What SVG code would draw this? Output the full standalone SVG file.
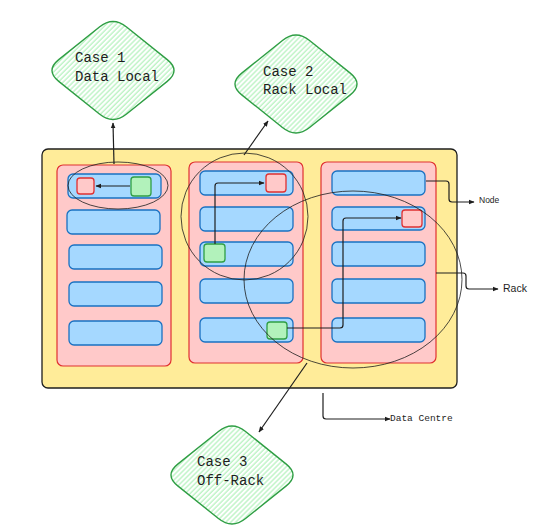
<svg xmlns="http://www.w3.org/2000/svg" width="560" height="530" viewBox="0 0 560 530">
<style>
.dc{fill:#ffec99;stroke:#1e1e1e;stroke-width:1.3}
.rack{fill:#ffc9c9;stroke:#e03131;stroke-width:1.2}
.srv{fill:#a5d8ff;stroke:#1971c2;stroke-width:1.3}
.grn{fill:#b2f2bb;stroke:#2f9e44;stroke-width:1.3}
.red{fill:#ffc9c9;stroke:#e03131;stroke-width:1.3}
.ell{fill:none;stroke:#1e1e1e;stroke-width:1;stroke-opacity:0.8}
.con{fill:none;stroke:#1e1e1e;stroke-width:1.2}
.dia{fill:url(#hatch);stroke:#2f9e44;stroke-width:1.4}
.case{font-family:"Liberation Mono","DejaVu Sans Mono",monospace;font-size:14px;fill:#1e1e1e}
.lbl{font-family:"Liberation Sans","DejaVu Sans",sans-serif;fill:#1e1e1e}
</style>
<defs>
<pattern id="hatch" patternUnits="userSpaceOnUse" width="3.5" height="3.5" patternTransform="rotate(45)">
<rect width="3.5" height="3.5" fill="#ffffff"/>
<line x1="1" y1="0" x2="1" y2="3.5" stroke="#b2f2bb" stroke-width="1.2"/>
</pattern>
<path id="diamond" d="M 13.56,-43.52 L 54.24,-10.88 Q 67.8,0 54.24,10.88 L 13.56,43.52 Q 0,54.4 -13.56,43.52 L -54.24,10.88 Q -67.8,0 -54.24,-10.88 L -13.56,-43.52 Q 0,-54.4 13.56,-43.52 Z"/>
<marker id="ah" viewBox="0 0 10 10" refX="9" refY="5" markerWidth="6" markerHeight="6" orient="auto" markerUnits="userSpaceOnUse">
<path d="M0,1 L10,5 L0,9 Z" fill="#1e1e1e"/>
</marker>
</defs>

<g id="data-centre"><rect class="dc" x="42" y="149" width="415" height="239" rx="6"/></g>

<g id="rack-1"><rect class="rack" x="57" y="165" width="114" height="201" rx="6"/></g>
<g id="rack-2"><rect class="rack" x="189" y="162" width="114" height="201" rx="6"/></g>
<g id="rack-3"><rect class="rack" x="321" y="162" width="115" height="201" rx="6"/></g>

<g id="r1-node-1"><rect class="srv" x="68" y="174" width="93" height="24" rx="5"/></g>
<g id="r1-node-2"><rect class="srv" x="67" y="210" width="93" height="24" rx="5"/></g>
<g id="r1-node-3"><rect class="srv" x="69" y="245" width="93" height="24" rx="5"/></g>
<g id="r1-node-4"><rect class="srv" x="69" y="282" width="93" height="24" rx="5"/></g>
<g id="r1-node-5"><rect class="srv" x="69" y="321" width="93" height="24" rx="5"/></g>

<g id="r2-node-1"><rect class="srv" x="200" y="171" width="93" height="24" rx="5"/></g>
<g id="r2-node-2"><rect class="srv" x="200" y="207" width="93" height="24" rx="5"/></g>
<g id="r2-node-3"><rect class="srv" x="200" y="242" width="93" height="24" rx="5"/></g>
<g id="r2-node-4"><rect class="srv" x="200" y="279" width="93" height="24" rx="5"/></g>
<g id="r2-node-5"><rect class="srv" x="200" y="318" width="93" height="24" rx="5"/></g>

<g id="r3-node-1"><rect class="srv" x="332" y="171" width="93" height="24" rx="5"/></g>
<g id="r3-node-2"><rect class="srv" x="332" y="207" width="93" height="23" rx="5"/></g>
<g id="r3-node-3"><rect class="srv" x="332" y="242" width="93" height="24" rx="5"/></g>
<g id="r3-node-4"><rect class="srv" x="332" y="279" width="93" height="24" rx="5"/></g>
<g id="r3-node-5"><rect class="srv" x="332" y="318" width="93" height="24" rx="5"/></g>

<g id="r1-data"><rect class="red" x="77" y="178" width="17" height="16" rx="3"/></g>
<g id="r1-task"><rect class="grn" x="131" y="177" width="20" height="19" rx="3"/></g>
<g id="r2-data"><rect class="red" x="266" y="174" width="20" height="18" rx="3"/></g>
<g id="r2-task"><rect class="grn" x="204" y="244" width="21" height="18" rx="3"/></g>
<g id="r2-task-2"><rect class="grn" x="267" y="322" width="20" height="17" rx="3"/></g>
<g id="r3-data"><rect class="red" x="402" y="210" width="20" height="17" rx="3"/></g>

<g id="scope-data-local"><ellipse class="ell" cx="118" cy="185.5" rx="50" ry="23.5"/></g>
<g id="scope-rack-local"><ellipse class="ell" cx="244.5" cy="216.5" rx="63.5" ry="63.5"/></g>
<g id="scope-off-rack"><ellipse class="ell" cx="353" cy="279.5" rx="109" ry="88.5"/></g>

<g id="case-1">
<use href="#diamond" class="dia" transform="translate(113,70.5)"/>
<text class="case" x="75" y="62">Case 1</text>
<text class="case" x="75" y="81">Data Local</text>
</g>
<g id="case-2">
<use href="#diamond" class="dia" transform="translate(296,84)"/>
<text class="case" x="263" y="76">Case 2</text>
<text class="case" x="263" y="94">Rack Local</text>
</g>
<g id="case-3">
<use href="#diamond" class="dia" transform="translate(232,475)"/>
<text class="case" x="197" y="466">Case 3</text>
<text class="case" x="197" y="485">Off-Rack</text>
</g>

<g id="label-node"><text class="lbl" x="479" y="203" font-size="8.5">Node</text></g>
<g id="label-rack"><text class="lbl" x="503" y="292" font-size="10.5">Rack</text></g>
<g id="label-dc"><text x="390" y="421" font-family="Liberation Mono, DejaVu Sans Mono, monospace" font-size="9.5" fill="#1e1e1e">Data Centre</text></g>

<g id="connectors">
<path class="con" d="M130,186 L96,186" marker-end="url(#ah)"/>
<path class="con" d="M215,244 L215,186 Q215,183 218,183 L264,183" marker-end="url(#ah)"/>
<path class="con" d="M287,328 L340,328 Q343,328 343,325 L343,221 Q343,218 346,218 L401,218" marker-end="url(#ah)"/>
<path class="con" d="M114,164 L113,123" marker-end="url(#ah)"/>
<path class="con" d="M244,155 L268,121" marker-end="url(#ah)"/>
<path class="con" d="M307,363 L259,432" marker-end="url(#ah)"/>
<path class="con" d="M426,181 L446,181 Q449,181 449,184 L449,199 Q449,202 452,202 L474,202" marker-end="url(#ah)"/>
<path class="con" d="M436,273 L463,273 Q466,273 466,276 L466,286 Q466,289 469,289 L498,289" marker-end="url(#ah)"/>
<path class="con" d="M323,393 L323,416 Q323,419 326,419 L390,419" marker-end="url(#ah)"/>
</g>
</svg>
